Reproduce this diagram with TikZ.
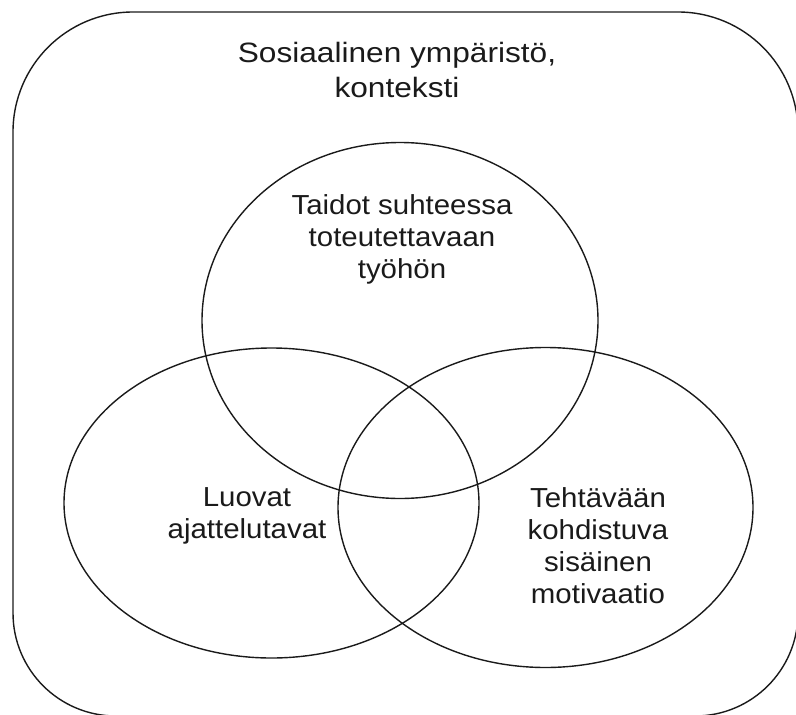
\documentclass[tikz,border=0pt]{standalone}
\usepackage{fontspec}
\setmainfont{Liberation Sans}[FakeStretch=1.07]
\newfontfamily\titlefont{Liberation Sans}[FakeStretch=1.13]
\usetikzlibrary{shapes.geometric}
\definecolor{ink}{HTML}{1A1A1A}
\begin{document}
\begin{tikzpicture}[x=1pt,y=-1pt,
  line/.style={draw=ink,line width=1.4pt},
  venn/.style={line,ellipse,inner sep=0pt},
  lbl/.style={align=center,inner sep=0pt,anchor=north,text=ink,
    font=\fontsize{27.5}{32}\selectfont},
  ttl/.style={align=center,inner sep=0pt,anchor=north,text=ink,
    font=\titlefont\fontsize{28}{35}\selectfont}]
\useasboundingbox (0,0) rectangle (796,715);
\clip (0,0) rectangle (796,715);
% outer context frame
\draw[line] (133,12) -- (678,12) arc[start angle=-90,end angle=0,radius=120]
  -- (798,613) arc[start angle=0,end angle=90,radius=103]
  -- (116,716) arc[start angle=90,end angle=180,radius=103]
  -- (13,132) arc[start angle=180,end angle=270,radius=120] -- cycle;
% three ellipses
\node[venn,minimum width=396pt,minimum height=356pt] (skills) at (400,320.5) {};
\node[venn,minimum width=415pt,minimum height=310pt] (creative) at (271.5,503) {};
\node[venn,minimum width=415pt,minimum height=320pt] (motivation) at (545.5,507.5) {};
% labels
\node[ttl] (title) at (397,42) {Sosiaalinen ympäristö,\\konteksti};
\node[lbl] (tskills) at (402,194) {Taidot suhteessa\\toteutettavaan\\työhön};
\node[lbl] (tcreative) at (247,487) {Luovat\\ajattelutavat};
\node[lbl] (tmotivation) at (598,487) {Tehtävään\\kohdistuva\\sisäinen\\motivaatio};
\end{tikzpicture}
\end{document}
